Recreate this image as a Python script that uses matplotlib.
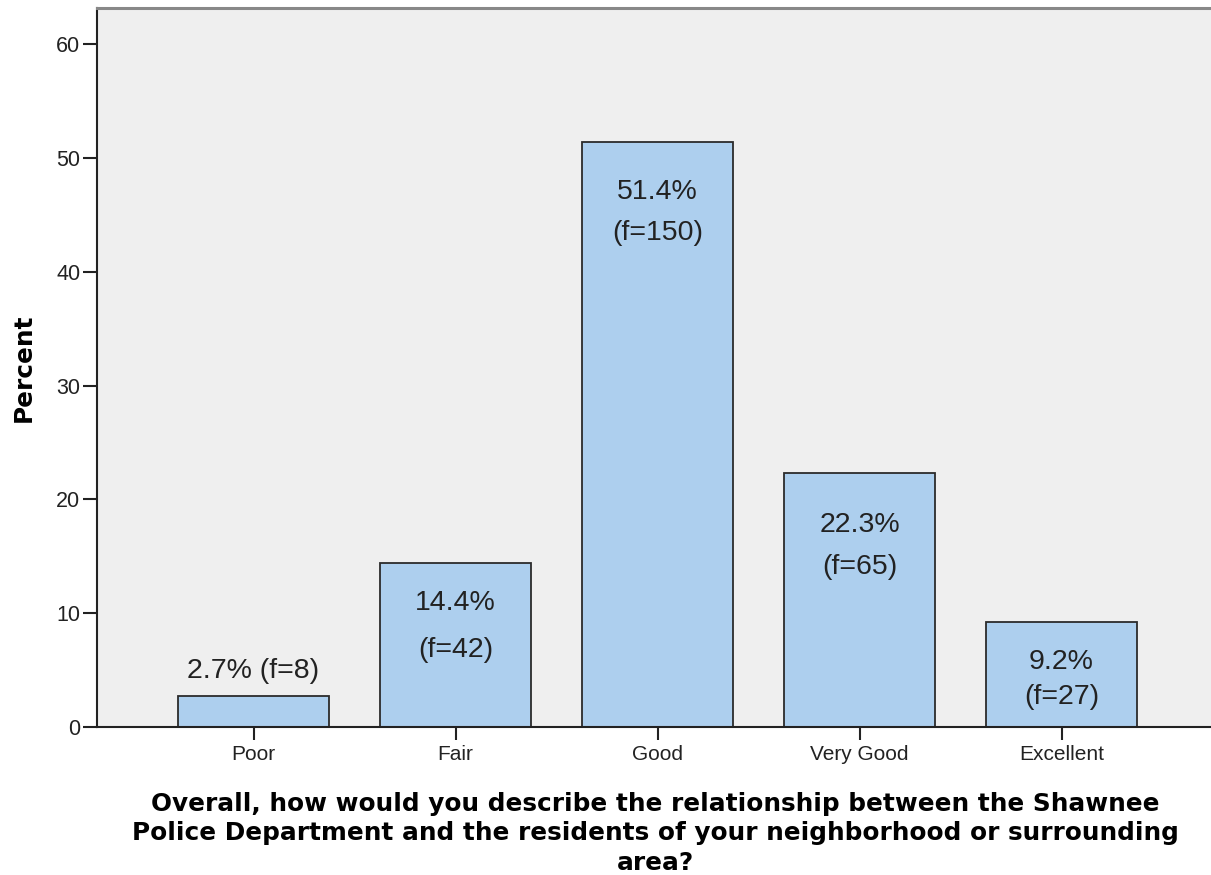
import numpy as np
import matplotlib
matplotlib.use('Agg')
from matplotlib import pyplot as plt

categories = ['Poor', 'Fair', 'Good', 'Very Good', 'Excellent']
percent = [2.7, 14.4, 51.4, 22.3, 9.2]
freq = [8, 42, 150, 65, 27]
yticks = [0, 10, 20, 30, 40, 50, 60]
xlabel_lines = [
    'Overall, how would you describe the relationship between the Shawnee',
    'Police Department and the residents of your neighborhood or surrounding',
    'area?',
]

plt.rcParams['font.family'] = ['Liberation Sans', 'DejaVu Sans']

fig = plt.figure(figsize=(12.11, 8.75), dpi=100)
ax = fig.add_axes([97 / 1211, 1 - 727 / 875, 1 - 97 / 1211, (727 - 8) / 875])
ax.set_facecolor('#EFEFEF')

x = np.arange(len(categories))
ax.bar(x, percent, width=0.75, color='#ADCFEE', edgecolor='#2b2b2b', linewidth=1.3, zorder=2)

ax.set_xlim(-0.775, 4.74)
ax.set_ylim(0, 63.2)
ax.set_xticks(x)
ax.set_xticklabels(categories, fontsize=15)
ax.set_yticks(yticks)
ax.set_yticklabels([str(t) for t in yticks], fontsize=15.5)
ax.tick_params(axis='y', length=10, width=1.5, pad=2, colors='#222222')
ax.tick_params(axis='x', length=9, width=1.5, pad=4, colors='#222222')

for s in ['left', 'bottom']:
    ax.spines[s].set_color('#222222')
    ax.spines[s].set_linewidth(1.5)
ax.spines['top'].set_color('#888888')
ax.spines['top'].set_linewidth(2.2)
ax.spines['right'].set_visible(False)

# label lines, placed by pixel offset from the bar top
pct_lines = ['2.7% (f=8)'] + ['%.1f%%' % p for p in percent[1:]]
f_lines = [None] + ['(f=%d)' % f for f in freq[1:]]
off1 = [25, -40, -50, -52, -40]
off2 = [None, -87, -91, -94, -75]
for i in range(len(categories)):
    ax.annotate(pct_lines[i], xy=(x[i], percent[i]), xytext=(0, off1[i]),
                textcoords='offset pixels', ha='center', va='center',
                fontsize=20.5, color='#222222')
    if f_lines[i]:
        ax.annotate(f_lines[i], xy=(x[i], percent[i]), xytext=(0, off2[i]),
                    textcoords='offset pixels', ha='center', va='center',
                    fontsize=20.5, color='#222222')

fig.text(24 / 1211, 1 - 368 / 875, 'Percent', rotation=90, ha='center', va='center',
         fontsize=17.8, fontweight='bold', family='DejaVu Sans')
for line, base in zip(xlabel_lines, [811, 840, 870]):
    fig.text(655 / 1211, 1 - base / 875, line, ha='center', va='baseline',
             fontsize=17.8, fontweight='bold', family='DejaVu Sans')

fig.savefig('out.png', dpi=100)
